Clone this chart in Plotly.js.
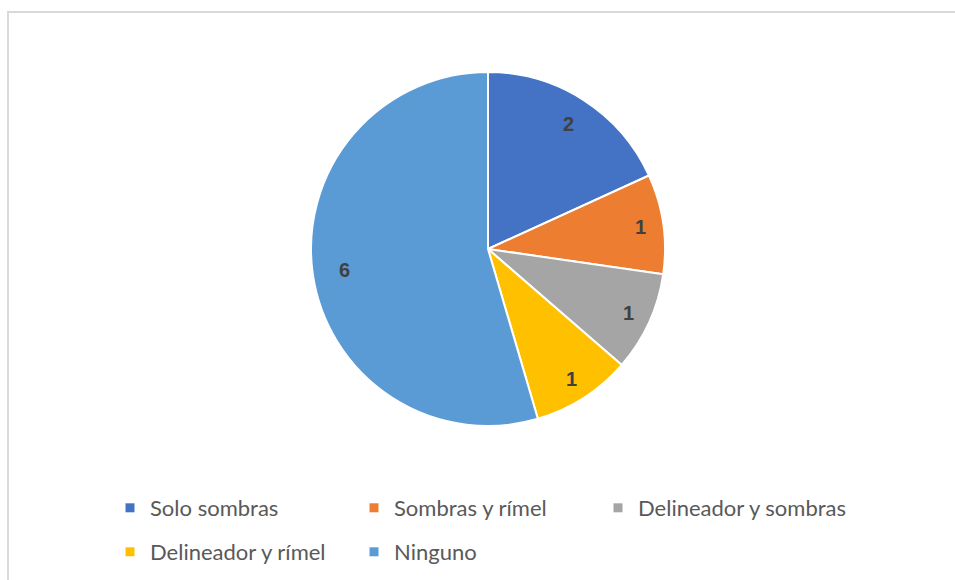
<!DOCTYPE html>
<html>
<head>
<meta charset="utf-8">
<script src="https://cdn.plot.ly/plotly-3.0.1.min.js"></script>
<style>
html,body{margin:0;padding:0;background:#fff;}
#frame{position:absolute;left:7px;top:11px;width:960px;height:600px;border-top:2px solid #d9d9d9;border-left:2px solid #d9d9d9;}
#chart{position:absolute;left:0;top:0;width:955px;height:580px;}
</style>
</head>
<body>
<div id="frame"></div>
<div id="chart"></div>
<script>
const categories = ["Solo sombras", "Sombras y rímel", "Delineador y sombras", "Delineador y rímel", "Ninguno"];
const values = [2, 1, 1, 1, 6];
const colors = ["#4472C4", "#ED7D31", "#A5A5A5", "#FFC000", "#5B9BD5"];

const W = 955, H = 580;
const dom = {x: [311/W, 665/W], y: [1 - 426/H, 1 - 72/H]};
const legendIds = categories.map((c, i) => i === 0 ? 'legend' : 'legend' + (i + 1));

const traces = [{
  type: 'pie',
  labels: categories,
  values: values,
  sort: false,
  direction: 'clockwise',
  rotation: 0,
  marker: {colors: colors, line: {color: '#ffffff', width: 2}},
  textinfo: 'none',
  showlegend: false,
  hoverinfo: 'label+value',
  domain: dom
}];
categories.forEach((c, i) => {
  traces.push({
    type: 'scatter', mode: 'markers', x: [null], y: [null],
    name: c, legend: legendIds[i], showlegend: true,
    marker: {symbol: 'square', size: 9, color: colors[i]},
    hoverinfo: 'skip'
  });
});

// data labels placed along each slice's mid-angle (derived from values)
const total = values.reduce((a, b) => a + b, 0);
const cx = (dom.x[0] + dom.x[1]) / 2, cy = (dom.y[0] + dom.y[1]) / 2;
const rx = (dom.x[1] - dom.x[0]) / 2, ry = (dom.y[1] - dom.y[0]) / 2;
let cum = 0;
const annotations = values.map(v => {
  const frac = v / total > 0.3 ? 0.82 : (v / total > 0.15 ? 0.84 : 0.87);
  const mid = (cum + v / 2) / total * 2 * Math.PI;
  cum += v;
  return {
    xref: 'paper', yref: 'paper',
    x: cx + frac * rx * Math.sin(mid),
    y: cy + frac * ry * Math.cos(mid),
    xanchor: 'center', yanchor: 'middle',
    text: String(v), showarrow: false,
    font: {family: 'Liberation Sans, Arial, sans-serif', size: 20, color: '#404040', weight: 'bold'}
  };
});

const legFont = {family: 'Lato, Carlito, sans-serif', size: 22, color: '#595959'};
const layout = {
  width: W, height: H,
  margin: {l: 0, r: 0, t: 0, b: 0},
  paper_bgcolor: 'rgba(0,0,0,0)',
  plot_bgcolor: 'rgba(0,0,0,0)',
  xaxis: {visible: false}, yaxis: {visible: false},
  annotations: annotations
};
const colStart = [110, 354, 598];
const rowY = [508, 552];
legendIds.forEach((id, i) => {
  const row = Math.floor(i / 3), col = i % 3;
  layout[id] = {
    orientation: 'h', x: colStart[col] / W, xanchor: 'left',
    y: 1 - rowY[row] / H, yanchor: 'middle',
    font: legFont, itemclick: false, bgcolor: 'rgba(0,0,0,0)'
  };
});
Plotly.newPlot('chart', traces, layout, {displayModeBar: false, staticPlot: true});
</script>
</body>
</html>
